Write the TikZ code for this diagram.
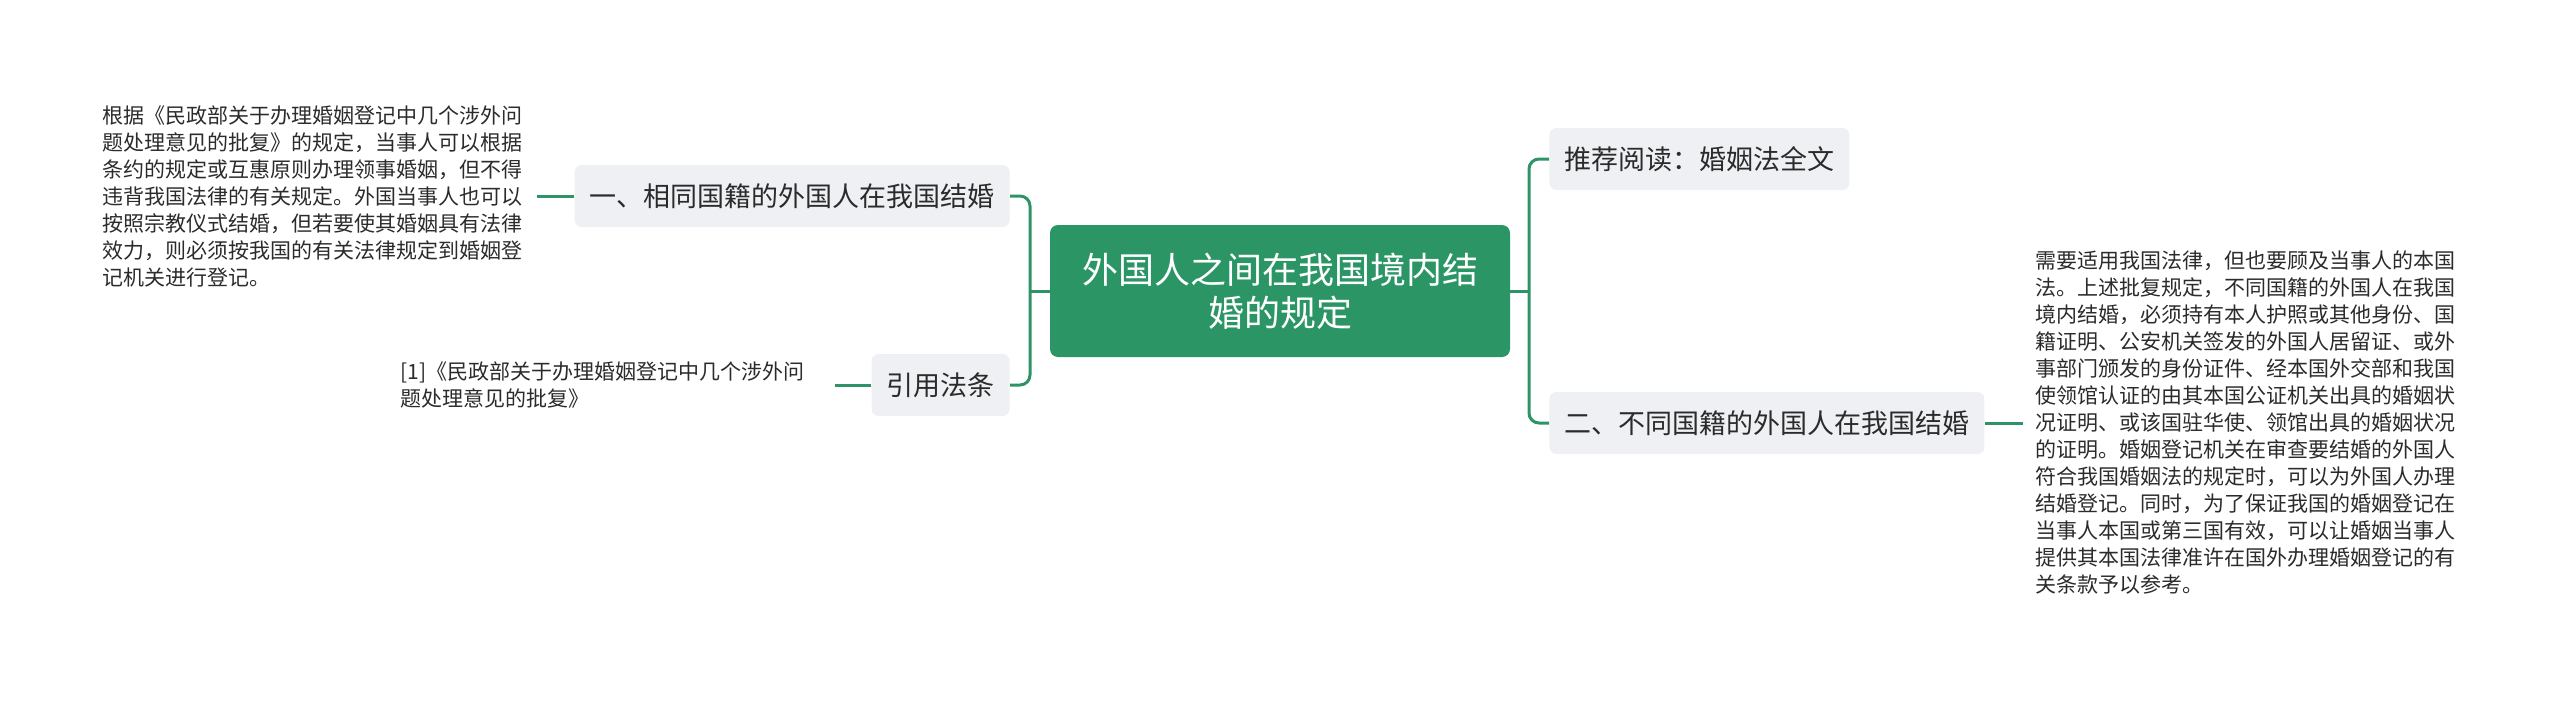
\documentclass[tikz,border=0pt]{standalone}
\usepackage{fontspec}
\setmainfont{Noto Sans CJK SC}
\usepackage{tikz}

\definecolor{rootgreen}{HTML}{2B9566}
\definecolor{linkgreen}{HTML}{2E9468}
\definecolor{boxgray}{HTML}{EEF0F3}
\definecolor{inkgray}{HTML}{2B2B2B}

\begin{document}
\begin{tikzpicture}[x=0.5pt,y=-0.5pt,
  root/.style={rectangle,rounded corners=4pt,fill=rootgreen,text=white,align=center,
    minimum width=230pt,minimum height=66pt,inner sep=0pt,font=\fontsize{18}{21.5}\selectfont},
  topic/.style={rectangle,rounded corners=3.5pt,fill=boxgray,text=inkgray,
    minimum height=31pt,inner xsep=7.5pt,inner ysep=0pt,font=\fontsize{13.5}{16}\selectfont},
  leaf/.style={text=inkgray,text width=211pt,align=left,inner xsep=6pt,inner ysep=0pt,
    font=\fontsize{10.5}{13.5}\selectfont},
  link/.style={draw=linkgreen,line width=1.5pt,rounded corners=5pt}]
  \useasboundingbox (0,0) rectangle (2560,702);

  \node[root] (1) at (1280,291) {外国人之间在我国境内结\\婚的规定}; % central topic
  \node[topic,anchor=east] (2) at (1010,196) {一、相同国籍的外国人在我国结婚};
  \node[topic,anchor=east] (3) at (1010,385) {引用法条};
  \node[topic,anchor=west] (4) at (1549,159) {推荐阅读：婚姻法全文};
  \node[topic,anchor=west] (5) at (1549,423) {二、不同国籍的外国人在我国结婚};

  % leaf texts
  \node[leaf,anchor=east] (6) at (537,196) {根据《民政部关于办理婚姻登记中几个涉外问\\
    题处理意见的批复》的规定，当事人可以根据\\
    条约的规定或互惠原则办理领事婚姻，但不得\\
    违背我国法律的有关规定。外国当事人也可以\\
    按照宗教仪式结婚，但若要使其婚姻具有法律\\
    效力，则必须按我国的有关法律规定到婚姻登\\
    记机关进行登记。};
  \node[leaf,anchor=east] (7) at (835,385) {[1]《民政部关于办理婚姻登记中几个涉外问\\
    题处理意见的批复》};
  \node[leaf,anchor=west] (8) at (2023,423) {需要适用我国法律，但也要顾及当事人的本国\\
    法。上述批复规定，不同国籍的外国人在我国\\
    境内结婚，必须持有本人护照或其他身份、国\\
    籍证明、公安机关签发的外国人居留证、或外\\
    事部门颁发的身份证件、经本国外交部和我国\\
    使领馆认证的由其本国公证机关出具的婚姻状\\
    况证明、或该国驻华使、领馆出具的婚姻状况\\
    的证明。婚姻登记机关在审查要结婚的外国人\\
    符合我国婚姻法的规定时，可以为外国人办理\\
    结婚登记。同时，为了保证我国的婚姻登记在\\
    当事人本国或第三国有效，可以让婚姻当事人\\
    提供其本国法律准许在国外办理婚姻登记的有\\
    关条款予以参考。};

  \coordinate (L) at (1030,291); % left fork
  \coordinate (R) at (1529,291); % right fork

  \draw[link] (1.west) -- (L);
  \draw[link] (L) |- (2.east);
  \draw[link] (L) |- (3.east);
  \draw[link] (1.east) -- (R);
  \draw[link] (R) |- (4.west);
  \draw[link] (R) |- (5.west);
  \draw[link] (2.west) -- (6.east);
  \draw[link] (3.west) -- (7.east);
  \draw[link] (5.east) -- (8.west);

\end{tikzpicture}
\end{document}
